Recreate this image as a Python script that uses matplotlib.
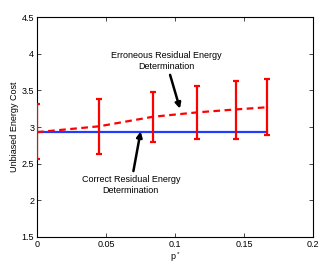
import matplotlib
matplotlib.use('Agg')
import matplotlib.pyplot as plt

# values
p = [0, 0.045, 0.084, 0.116, 0.144, 0.167]
correct = [2.93, 2.93, 2.93, 2.93, 2.93, 2.93]
erroneous = [2.93, 3.01, 3.14, 3.20, 3.24, 3.27]
err_lo = [2.565, 2.63, 2.80, 2.84, 2.84, 2.89]
err_hi = [3.31, 3.38, 3.48, 3.56, 3.625, 3.65]

plt.rcParams['font.family'] = ['Liberation Sans', 'DejaVu Sans']
plt.rcParams['font.size'] = 6.5

fig = plt.figure(figsize=(3.25, 2.63), dpi=100)
ax = fig.add_axes([0.114, 0.099, 0.849, 0.836])

ax.plot(p, correct, color='#1f3cff', lw=1.6, zorder=2)
ax.plot(p, erroneous, color='red', lw=1.6, ls=(0, (3, 2)), zorder=3)
lower = [e - l for e, l in zip(erroneous, err_lo)]
upper = [h - e for e, h in zip(erroneous, err_hi)]
ax.errorbar(p, erroneous, yerr=[lower, upper], fmt='none', ecolor='red',
            elinewidth=1.6, capsize=2, capthick=1.6, zorder=4)

ax.annotate('Erroneous Residual Energy\nDetermination', xy=(0.1036, 3.25),
            xytext=(0.0935, 3.90), ha='center', va='center', fontsize=6.5,
            arrowprops=dict(arrowstyle='-|>,head_length=0.5,head_width=0.25',
                            color='black', lw=1.8, shrinkA=1, shrinkB=0))
ax.annotate('Correct Residual Energy\nDetermination', xy=(0.0751, 2.94),
            xytext=(0.068, 2.21), ha='center', va='center', fontsize=6.5,
            arrowprops=dict(arrowstyle='-|>,head_length=0.5,head_width=0.25',
                            color='black', lw=1.8, shrinkA=1, shrinkB=0))

ax.set_xlim(0, 0.2)
ax.set_ylim(1.5, 4.5)
ax.set_xticks([0, 0.05, 0.1, 0.15, 0.2])
ax.set_xticklabels(['0', '0.05', '0.1', '0.15', '0.2'])
ax.set_yticks([1.5, 2, 2.5, 3, 3.5, 4, 4.5])
ax.set_yticklabels(['1.5', '2', '2.5', '3', '3.5', '4', '4.5'])
ax.tick_params(direction='in', top=True, right=True, length=3, width=0.5, pad=2)
for s in ax.spines.values():
    s.set_linewidth(0.8)
ax.set_xlabel(r'$\mathregular{p^*}$', labelpad=1)
ax.set_ylabel('Unbiased Energy Cost', labelpad=2)

fig.savefig('out.png', dpi=100)
